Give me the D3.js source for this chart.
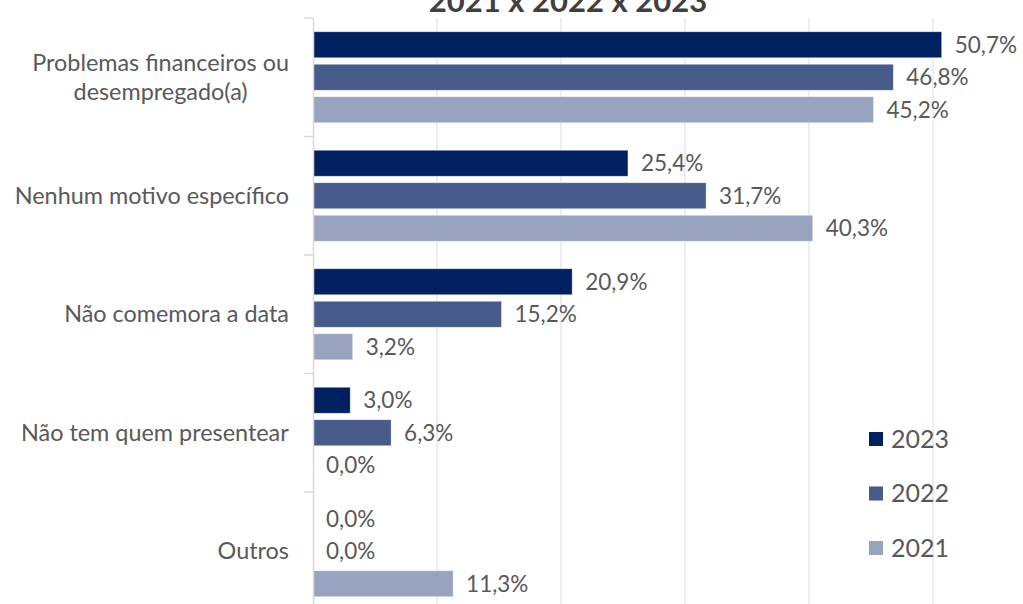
<!DOCTYPE html>
<html>
<head>
<meta charset="utf-8">
<script src="https://cdn.jsdelivr.net/npm/d3@7"></script>
<style>
  body { margin: 0; background: #fff; }
  svg { display: block; font-family: Lato, "Open Sans", sans-serif; }
</style>
</head>
<body>
<svg id="chart" width="1023" height="604"></svg>
<script>
// chart data
const categories = ["Problemas financeiros ou desempregado(a)", "Nenhum motivo específico", "Não comemora a data", "Não tem quem presentear", "Outros"];
const years = ["2023", "2022", "2021"];
const v2023 = [50.7, 25.4, 20.9, 3.0, 0.0];
const v2022 = [46.8, 31.7, 15.2, 6.3, 0.0];
const v2021 = [45.2, 40.3, 3.2, 0.0, 11.3];
const xTicks = [0, 10, 20, 30, 40, 50, 60];
const title = "2021 x 2022 x 2023";

const colors = {"2023": "#002060", "2022": "#475b8b", "2021": "#97a3bf"};
const values = {"2023": v2023, "2022": v2022, "2021": v2021};

const svg = d3.select("#chart"),
      plotLeft = 313, plotTop = 18,
      x = d3.scaleLinear().domain([0, 60]).range([plotLeft, plotLeft + 744]),
      y = d3.scaleBand().domain(categories).range([plotTop, plotTop + 5 * 118.5]),
      yy = d3.scaleBand().domain(years).range([0, y.bandwidth()]).paddingInner(0.2).paddingOuter(0.423);

const fmt = v => v.toFixed(1).replace(".", ",") + "%";

// title (cut at top like the source)
svg.append("text")
    .attr("x", 568).attr("y", 12)
    .attr("text-anchor", "middle")
    .style("font-size", "31px").style("font-weight", "bold")
    .style("fill", "#404040")
    .text(title);

// gridlines
svg.append("g").selectAll("line")
  .data(xTicks.slice(1))
  .enter().append("line")
    .attr("x1", d => x(d)).attr("x2", d => x(d))
    .attr("y1", plotTop).attr("y2", 604)
    .attr("stroke", "#e8e8e8").attr("stroke-width", 1.5);

// bars
const groups = svg.append("g").selectAll("g")
  .data(categories)
  .enter().append("g")
    .attr("transform", d => `translate(0,${y(d)})`);

years.forEach(yr => {
  groups.append("rect")
    .attr("x", x(0))
    .attr("y", yy(yr))
    .attr("width", (d, i) => x(values[yr][i]) - x(0))
    .attr("height", yy.bandwidth())
    .attr("fill", colors[yr])
    .attr("stroke", "#ffffff").attr("stroke-opacity", 0.5).attr("stroke-width", 0.75);

  groups.append("text")
    .attr("x", (d, i) => x(values[yr][i]) + 13)
    .attr("y", yy(yr) + yy.bandwidth() / 2)
    .attr("dy", "0.35em")
    .style("font-size", "22.5px").style("fill", "#595959")
    .text((d, i) => fmt(values[yr][i]));
});

// category axis
const yAxis = svg.append("g")
    .attr("transform", `translate(${plotLeft},0)`)
    .call(d3.axisLeft(y).tickSize(0).tickFormat(""));
yAxis.select(".domain").attr("stroke", "#d9d9d9").attr("stroke-width", 1.5);

svg.append("g").selectAll("line")
  .data(d3.range(categories.length + 1))
  .enter().append("line")
    .attr("x1", plotLeft - 9).attr("x2", plotLeft)
    .attr("y1", i => plotTop + i * y.step()).attr("y2", i => plotTop + i * y.step())
    .attr("stroke", "#d9d9d9").attr("stroke-width", 1.5);

// category labels, wrapped lines centred in a right-aligned block
const wrapAt = {"Problemas financeiros ou desempregado(a)": ["Problemas financeiros ou", "desempregado(a)"]};
categories.forEach(c => {
  const lines = wrapAt[c] || [c],
        cy = y(c) + y.bandwidth() / 2,
        lh = 29,
        t = svg.append("text")
          .style("font-size", "23.4px").style("fill", "#595959")
          .attr("text-anchor", "middle");
  lines.forEach((l, i) => {
    t.append("tspan").attr("x", 0)
      .attr("y", cy + (i - (lines.length - 1) / 2) * lh)
      .attr("dy", "0.35em").text(l);
  });
  const w = t.node().getBBox().width;
  t.selectAll("tspan").attr("x", 289 - w / 2);
});

// legend
const legend = svg.append("g").selectAll("g")
  .data(years)
  .enter().append("g")
    .attr("transform", (d, i) => `translate(869,${439 + i * 54.5})`);
legend.append("rect")
    .attr("x", 0).attr("y", -7).attr("width", 14).attr("height", 14)
    .attr("fill", d => colors[d]);
legend.append("text")
    .attr("x", 22).attr("dy", "0.35em")
    .style("font-size", "25px").style("fill", "#595959")
    .text(d => d);
</script>
</body>
</html>
